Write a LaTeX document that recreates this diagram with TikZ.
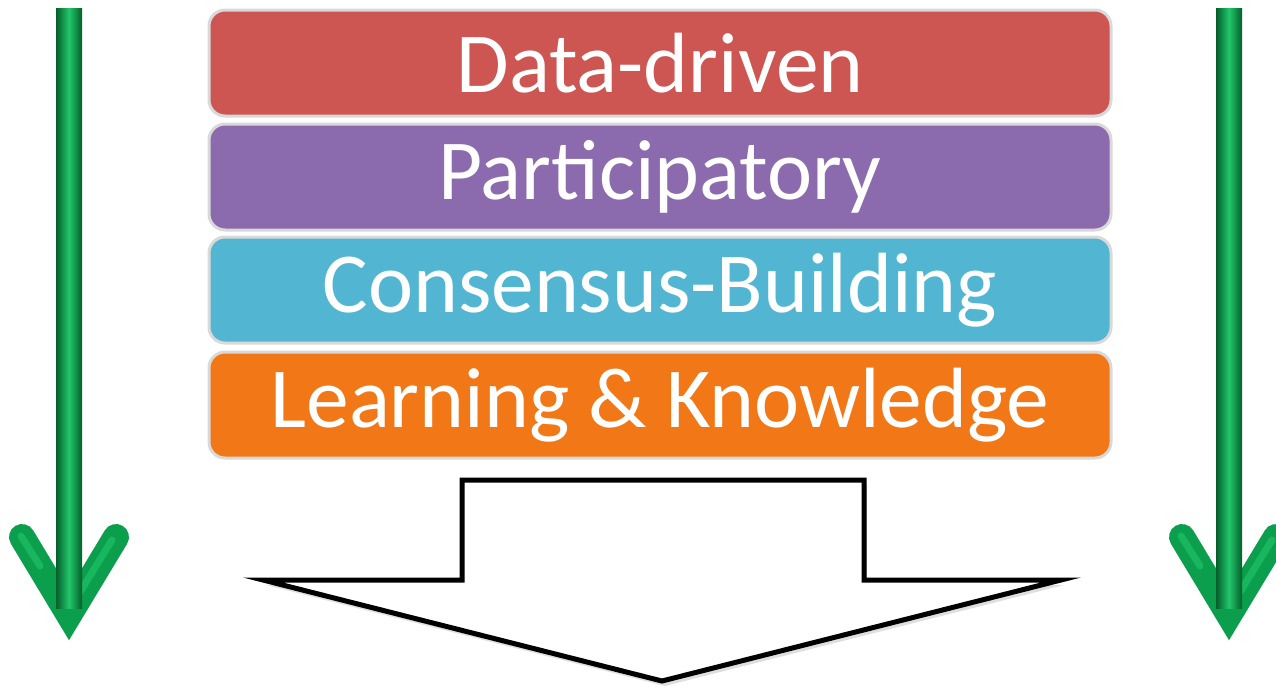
\documentclass[tikz,border=0pt]{standalone}
\usepackage{fontspec}
\setmainfont{Carlito}
\usetikzlibrary{shadows, positioning}
\definecolor{datared}{HTML}{CD5552}
\definecolor{partpurple}{HTML}{8B6BAE}
\definecolor{consblue}{HTML}{52B6D2}
\definecolor{learnorange}{HTML}{F27716}
\definecolor{arrowgreen}{HTML}{0B9E4C}
\definecolor{arrowdark}{HTML}{035E2A}
\definecolor{arrowlight}{HTML}{22C76C}
\tikzset{
    layer/.style = {draw=gray!30, line width=3pt, rounded corners=16pt, minimum width=902pt, minimum height=106pt, inner sep=0pt, text=white, font=\fontsize{85.5}{90}\selectfont},
}
\tikzset{
    green arm/.style = {draw=arrowgreen, line width=26pt, line cap=round, line join=miter},
    arm glint/.style = {draw=arrowlight, line width=7pt, line cap=round, opacity=0.6},
    green shaft/.style = {left color=arrowdark, right color=arrowdark, middle color=arrowlight},
}

\begin{document}
\begin{tikzpicture}[x=1pt, y=-1pt]
            \useasboundingbox (0, 0) rectangle (1276, 686);

            \node[layer, fill=datared] (data) at (660, 63) {Data-driven};
            \node[layer, fill=partpurple] (part) at (660, 177) {Participatory};
            \node[layer, fill=consblue] (cons) at (660, 290) {Consensus-Building};
            \node[layer, fill=learnorange] (learn) at (660, 405) {Learning \& Knowledge};

            \draw[green arm] (22, 537) -- (69, 615) -- (116, 537);
            \draw[arm glint] (21, 536) -- (40, 566);
            \draw[arm glint] (112, 540) -- (80, 592);
            \shade[green shaft] (56, 8) rectangle (82, 608);

            \draw[green arm] (1182, 537) -- (1229, 615) -- (1276, 537);
            \draw[arm glint] (1181, 536) -- (1200, 566);
            \draw[arm glint] (1272, 540) -- (1240, 592);
            \shade[green shaft] (1216, 8) rectangle (1242, 608);

            \draw[line width=5pt, fill=white, drop shadow={shadow xshift=3pt, shadow yshift=-5pt, opacity=0.25}]
                (462, 480) -- (864, 480) -- (864, 580) -- (1061, 580)
                -- (662, 681) -- (263, 580) -- (462, 580) -- cycle;
        \end{tikzpicture}
\end{document}
